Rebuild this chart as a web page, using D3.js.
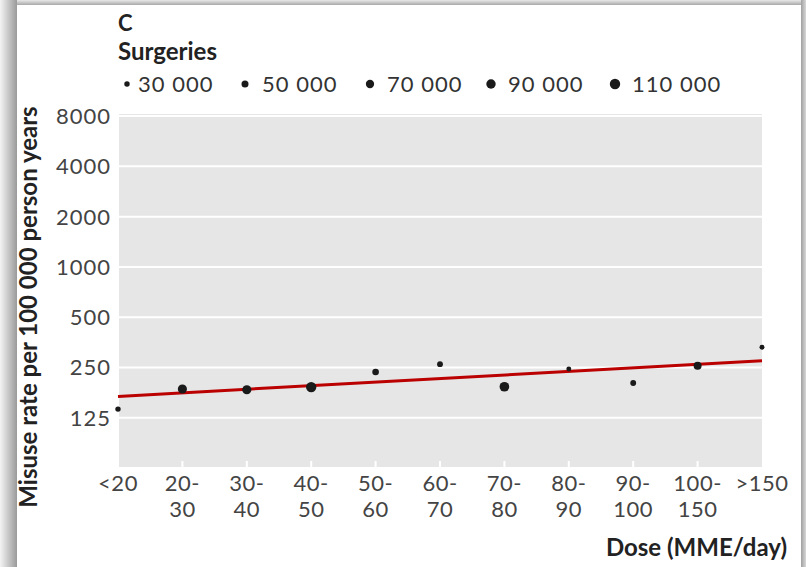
<!DOCTYPE html>
<html>
<head>
<meta charset="utf-8">
<script src="https://cdn.jsdelivr.net/npm/d3@7"></script>
<style>
  body { margin: 0; background: #fff; }
  svg text { font-family: Lato, "Open Sans", sans-serif; }
</style>
</head>
<body>
<div id="chart"></div>
<script>
// dose categories and values
const doses = ["<20", "20-30", "30-40", "40-50", "50-60", "60-70", "70-80", "80-90", "90-100", "100-150", ">150"];
const misuseRate = [141, 186, 184, 191, 235, 262, 192, 245, 202, 256, 331];
const surgeries = [30000, 85000, 85000, 110000, 45000, 35000, 95000, 25000, 35000, 65000, 25000];
const trendRate = [168, 275]; // fitted line at first and last dose
const yTicks = [125, 250, 500, 1000, 2000, 4000, 8000];
const legendSizes = [30000, 50000, 70000, 90000, 110000];

const width = 806, height = 567;
const margin = {top: 114, right: 44, bottom: 100, left: 119};

let svg = d3.select("#chart").append("svg")
    .attr("width", width)
    .attr("height", height);

// card shadow
let defs = svg.append("defs");
let gl = defs.append("linearGradient").attr("id", "shL").attr("x1", 0).attr("x2", 1);
gl.append("stop").attr("offset", 0).attr("stop-color", "#f4f4f4");
gl.append("stop").attr("offset", 1).attr("stop-color", "#9a9a9a");
let gr = defs.append("linearGradient").attr("id", "shR").attr("x1", 0).attr("x2", 1);
gr.append("stop").attr("offset", 0).attr("stop-color", "#a0a0a0");
gr.append("stop").attr("offset", 1).attr("stop-color", "#d8d8d8");
let gt = defs.append("linearGradient").attr("id", "shT").attr("x1", 0).attr("x2", 0).attr("y1", 0).attr("y2", 1);
gt.append("stop").attr("offset", 0).attr("stop-color", "#e8e8e8");
gt.append("stop").attr("offset", 1).attr("stop-color", "#a8a8a8");

svg.append("rect").attr("x", 0).attr("y", 0).attr("width", 17).attr("height", height).style("fill", "url(#shL)");
svg.append("rect").attr("x", 17).attr("y", 0).attr("width", 784).attr("height", 5).style("fill", "url(#shT)");
svg.append("rect").attr("x", 801).attr("y", 0).attr("width", 5).attr("height", height).style("fill", "url(#shR)");

// scales
let x = d3.scalePoint().domain(doses).range([118, width - margin.right]);
let y = d3.scaleLog().base(2).domain([63.5, 8230]).range([height - margin.bottom, margin.top]);
let r = d3.scaleSqrt().domain([0, 110000]).range([0, 5.2]);

// plot background
svg.append("rect")
    .attr("x", margin.left)
    .attr("y", margin.top)
    .attr("width", width - margin.right - margin.left)
    .attr("height", height - margin.bottom - margin.top)
    .style("fill", "#e6e6e6");

// horizontal grid
svg.append("g").selectAll("line")
    .data(yTicks)
    .enter().append("line")
    .attr("x1", margin.left)
    .attr("x2", width - margin.right)
    .attr("y1", d => y(d))
    .attr("y2", d => y(d))
    .style("stroke", "#fff")
    .style("stroke-width", 2);

// little white ticks at the bottom of the panel
svg.append("g").selectAll("line")
    .data(doses.slice(1, -1))
    .enter().append("line")
    .attr("x1", d => x(d))
    .attr("x2", d => x(d))
    .attr("y1", height - margin.bottom)
    .attr("y2", height - margin.bottom - 6)
    .style("stroke", "#fff")
    .style("stroke-width", 2);

// y tick labels
svg.append("g").selectAll("text")
    .data(yTicks)
    .enter().append("text")
    .attr("x", 111)
    .attr("y", d => y(d))
    .attr("dy", "0.36em")
    .attr("text-anchor", "end")
    .style("font-size", "22px")
    .style("letter-spacing", "1px")
    .style("fill", "#444")
    .text(d => d);

// x tick labels, split on the dash
let xLab = svg.append("g").selectAll("text")
    .data(doses)
    .enter().append("text")
    .attr("text-anchor", "middle")
    .style("font-size", "22px")
    .style("letter-spacing", "0.5px")
    .style("fill", "#444");
xLab.each(function(d) {
    let parts = d.indexOf("-") > 0 ? [d.split("-")[0] + "-", d.split("-")[1]] : [d];
    d3.select(this).selectAll("tspan")
        .data(parts)
        .enter().append("tspan")
        .attr("x", x(d))
        .attr("y", (p, i) => 491 + i * 26)
        .text(p => p);
});

// trend line
let trend = d3.line()
    .x(d => x(d.dose))
    .y(d => y(d.rate));
svg.append("path")
    .attr("d", trend([{dose: doses[0], rate: trendRate[0]}, {dose: doses[doses.length - 1], rate: trendRate[1]}]))
    .style("fill", "none")
    .style("stroke", "#bb0000")
    .style("stroke-width", 3);

// points
svg.append("g").selectAll("circle")
    .data(doses)
    .enter().append("circle")
    .attr("cx", d => x(d))
    .attr("cy", (d, i) => y(misuseRate[i]))
    .attr("r", (d, i) => r(surgeries[i]))
    .style("fill", "#1a1a1a");

// titles
svg.append("text").attr("x", 118).attr("y", 31)
    .style("font-size", "22px").style("font-weight", "bold").style("fill", "#222")
    .text("C");
svg.append("text").attr("x", 118).attr("y", 60)
    .style("font-size", "24px").style("font-weight", "bold").style("fill", "#222")
    .text("Surgeries");

// legend
let legendX = [127, 245, 370, 491, 615];
let leg = svg.append("g").selectAll("g")
    .data(legendSizes)
    .enter().append("g")
    .attr("transform", (d, i) => "translate(" + legendX[i] + ",84)");
leg.append("circle")
    .attr("r", d => r(d))
    .style("fill", "#1a1a1a");
leg.append("text")
    .attr("x", (d, i) => i === 0 ? 11 : 17)
    .attr("dy", "0.36em")
    .style("font-size", "22px")
    .style("letter-spacing", "1px")
    .style("fill", "#333")
    .text(d => d3.format(",")(d).replace(",", " "));

// axis titles
svg.append("text")
    .attr("transform", "translate(37,307) rotate(-90)")
    .attr("text-anchor", "middle")
    .style("font-size", "24px")
    .style("font-weight", "bold")
    .style("fill", "#222")
    .text("Misuse rate per 100 000 person years");

svg.append("text")
    .attr("x", 787)
    .attr("y", 556)
    .attr("text-anchor", "end")
    .style("font-size", "24px")
    .style("font-weight", "bold")
    .style("fill", "#222")
    .text("Dose (MME/day)");
</script>
</body>
</html>
